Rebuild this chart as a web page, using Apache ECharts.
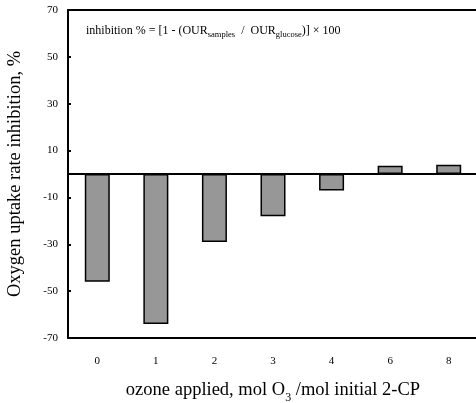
<!DOCTYPE html>
<html>
<head>
<meta charset="utf-8">
<script src="https://cdn.jsdelivr.net/npm/echarts@6/dist/echarts.min.js"></script>
<style>
  html, body { margin: 0; padding: 0; background: #fff; }
  #chart { width: 476px; height: 403px; }
</style>
</head>
<body>
<div id="chart"></div>
<script>
// Ozone dose categories (mol O3 / mol initial 2-CP)
const categories = ['0', '1', '2', '3', '4', '6', '8'];
// Oxygen uptake rate inhibition, %
const inhibition = [-46, -64, -29, -18, -7, 3.5, 4];
// Y tick range and step
const yMin = -70;
const yMax = 70;
const yStep = 20;

const FONT = '"Liberation Serif", "Times New Roman", serif';

const chart = echarts.init(document.getElementById('chart'), null, { renderer: 'canvas' });

chart.setOption({
  animation: false,
  backgroundColor: '#ffffff',
  grid: {
    left: 68, right: -2, top: 10, bottom: 65,
    show: false,
    containLabel: false,
    outerBoundsMode: 'none'
  },
  graphic: [{
    type: 'text',
    left: 86,
    top: 25,
    style: {
      text: '{t|inhibition % = [1 - (OUR}{s|samples}{t|  /  OUR}{s|glucose}{t|)] × 100}',
      fill: '#000',
      rich: {
        t: { fontFamily: FONT, fontSize: 12, fill: '#000', height: 14, verticalAlign: 'bottom' },
        s: { fontFamily: FONT, fontSize: 8.5, fill: '#000', verticalAlign: 'bottom', padding: [0, 0, -1, 0] }
      }
    }
  }],
  xAxis: [{
    type: 'category',
    data: categories,
    axisLine: { onZero: false, lineStyle: { color: '#000', width: 2 } },
    axisTick: { show: false },
    axisLabel: { fontFamily: FONT, fontSize: 11, color: '#000', margin: 18 },
    name: '{n|ozone applied, mol O}{s|3}{n| /mol initial 2-CP}',
    nameLocation: 'middle',
    nameGap: 43,
    nameTextStyle: {
      rich: {
        n: { fontFamily: FONT, fontSize: 18.5, color: '#000' },
        s: { fontFamily: FONT, fontSize: 12, color: '#000', verticalAlign: 'bottom', padding: [0, 0, -4, 0] }
      }
    }
  }, {
    // top frame line
    type: 'category',
    data: categories,
    position: 'top',
    axisLine: { onZero: false, lineStyle: { color: '#000', width: 2 } },
    axisTick: { show: false },
    axisLabel: { show: false }
  }],
  yAxis: {
    type: 'value',
    min: yMin, max: yMax, interval: yStep,
    axisLine: { show: true, lineStyle: { color: '#000', width: 2 } },
    axisTick: { show: true, inside: true, length: 3, lineStyle: { color: '#000', width: 2 } },
    splitLine: { show: false },
    axisLabel: { fontFamily: FONT, fontSize: 11, color: '#000', margin: 10 },
    name: 'Oxygen uptake rate inhibition, %',
    nameLocation: 'middle',
    nameGap: 43,
    nameTextStyle: { fontFamily: FONT, fontSize: 18.5, color: '#000' }
  },
  series: [{
    type: 'bar',
    data: inhibition,
    barWidth: 25,
    itemStyle: { color: '#979797', borderColor: '#000', borderWidth: 1.5 },
    markLine: {
      silent: true,
      symbol: 'none',
      label: { show: false },
      lineStyle: { color: '#000', width: 2, type: 'solid' },
      data: [{ yAxis: 0 }]
    }
  }]
});
</script>
</body>
</html>
